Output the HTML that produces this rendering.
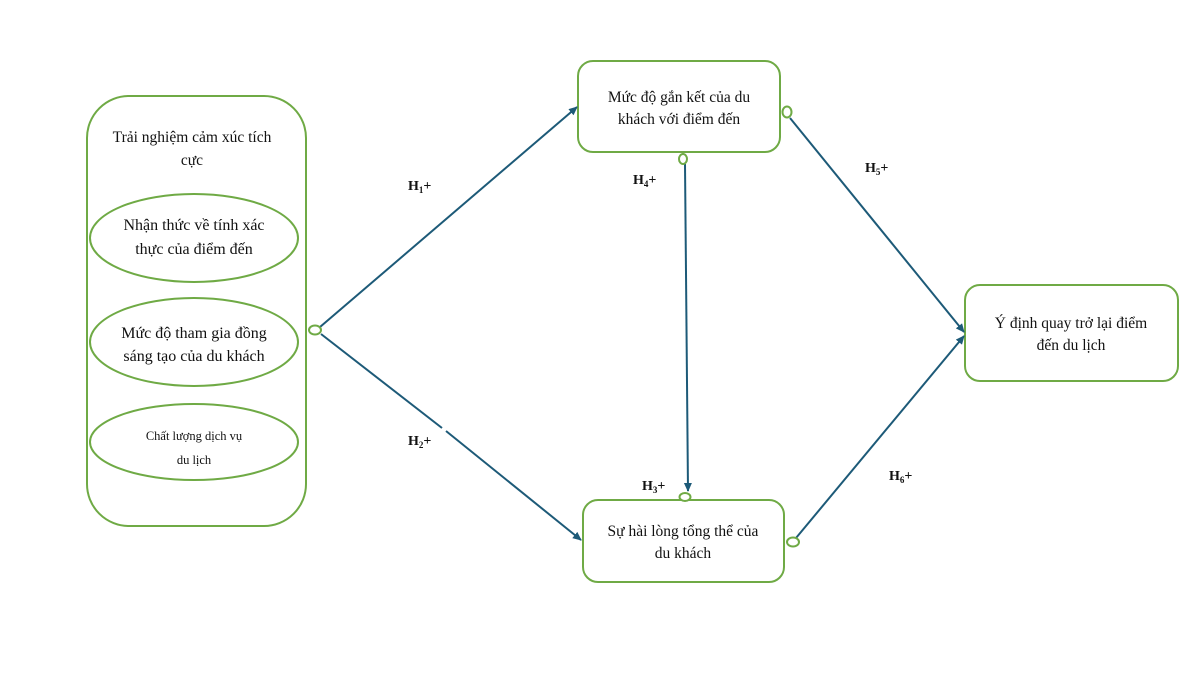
<!DOCTYPE html>
<html>
<head>
<meta charset="utf-8">
<style>
html,body{margin:0;padding:0;background:#fff;}
svg{display:block;}
text{font-family:"Liberation Serif","DejaVu Serif",serif;fill:#111;}
.lbl{font-weight:bold;font-size:14px;}
</style>
</head>
<body>
<svg width="1200" height="675" viewBox="0 0 1200 675" xmlns="http://www.w3.org/2000/svg">
<defs>
<marker id="ah" markerWidth="10" markerHeight="10" refX="8" refY="4" orient="auto" markerUnits="userSpaceOnUse">
<path d="M0,0 L9,4 L0,8 Z" fill="#1d5a78"/>
</marker>
</defs>
<rect width="1200" height="675" fill="#fff"/>

<!-- left container -->
<rect x="87" y="96" width="219" height="430" rx="42" ry="42" fill="#fff" stroke="#6faa45" stroke-width="2"/>
<text x="192" y="142" font-size="15.5" text-anchor="middle">Trải nghiệm cảm xúc tích</text>
<text x="192" y="165" font-size="15.5" text-anchor="middle">cực</text>

<ellipse cx="194" cy="238" rx="104" ry="44" fill="#fff" stroke="#6faa45" stroke-width="2"/>
<text x="194" y="230" font-size="16" text-anchor="middle">Nhận thức về tính xác</text>
<text x="194" y="254" font-size="16" text-anchor="middle">thực của điểm đến</text>

<ellipse cx="194" cy="342" rx="104" ry="44" fill="#fff" stroke="#6faa45" stroke-width="2"/>
<text x="194" y="338" font-size="16" text-anchor="middle">Mức độ tham gia đồng</text>
<text x="194" y="361" font-size="16" text-anchor="middle">sáng tạo của du khách</text>

<ellipse cx="194" cy="442" rx="104" ry="38" fill="#fff" stroke="#6faa45" stroke-width="2"/>
<text x="194" y="440" font-size="12.5" text-anchor="middle">Chất lượng dịch vụ</text>
<text x="194" y="464" font-size="12.5" text-anchor="middle">du lịch</text>

<!-- top box -->
<rect x="578" y="61" width="202" height="91" rx="15" ry="15" fill="#fff" stroke="#6faa45" stroke-width="2"/>
<text x="679" y="102" font-size="15.5" text-anchor="middle">Mức độ gắn kết của du</text>
<text x="679" y="124" font-size="15.5" text-anchor="middle">khách với điểm đến</text>

<!-- bottom box -->
<rect x="583" y="500" width="201" height="82" rx="15" ry="15" fill="#fff" stroke="#6faa45" stroke-width="2"/>
<text x="683" y="536" font-size="15.5" text-anchor="middle">Sự hài lòng tổng thể của</text>
<text x="683" y="558" font-size="15.5" text-anchor="middle">du khách</text>

<!-- right box -->
<rect x="965" y="285" width="213" height="96" rx="15" ry="15" fill="#fff" stroke="#6faa45" stroke-width="2"/>
<text x="1071" y="328" font-size="15.5" text-anchor="middle">Ý định quay trở lại điểm</text>
<text x="1071" y="350" font-size="15.5" text-anchor="middle">đến du lịch</text>

<!-- connectors -->
<g stroke="#1d5a78" stroke-width="2" fill="none">
<line x1="320" y1="327" x2="577" y2="107" marker-end="url(#ah)"/>
<line x1="321" y1="334" x2="442" y2="428"/>
<line x1="446" y1="431" x2="581" y2="540" marker-end="url(#ah)"/>
<line x1="685" y1="164" x2="688" y2="491" marker-end="url(#ah)"/>
<line x1="790" y1="118" x2="964" y2="332" marker-end="url(#ah)"/>
<line x1="796" y1="538" x2="964" y2="336" marker-end="url(#ah)"/>
</g>

<!-- small connector circles -->
<g fill="#fff" stroke="#6faa45" stroke-width="2">
<ellipse cx="315" cy="330" rx="6" ry="4.5"/>
<ellipse cx="787" cy="112" rx="4.5" ry="5.5"/>
<ellipse cx="683" cy="159" rx="4" ry="5"/>
<ellipse cx="685" cy="497" rx="5.5" ry="4"/>
<ellipse cx="793" cy="542" rx="6" ry="4.5"/>
</g>

<!-- labels -->
<text class="lbl" x="408" y="190">H<tspan font-size="9" dy="3">1</tspan><tspan dy="-3">+</tspan></text>
<text class="lbl" x="408" y="445">H<tspan font-size="9" dy="3">2</tspan><tspan dy="-3">+</tspan></text>
<text class="lbl" x="642" y="490">H<tspan font-size="9" dy="3">3</tspan><tspan dy="-3">+</tspan></text>
<text class="lbl" x="633" y="184">H<tspan font-size="9" dy="3">4</tspan><tspan dy="-3">+</tspan></text>
<text class="lbl" x="865" y="172">H<tspan font-size="9" dy="3">5</tspan><tspan dy="-3">+</tspan></text>
<text class="lbl" x="889" y="480">H<tspan font-size="9" dy="3">6</tspan><tspan dy="-3">+</tspan></text>
</svg>
</body>
</html>
